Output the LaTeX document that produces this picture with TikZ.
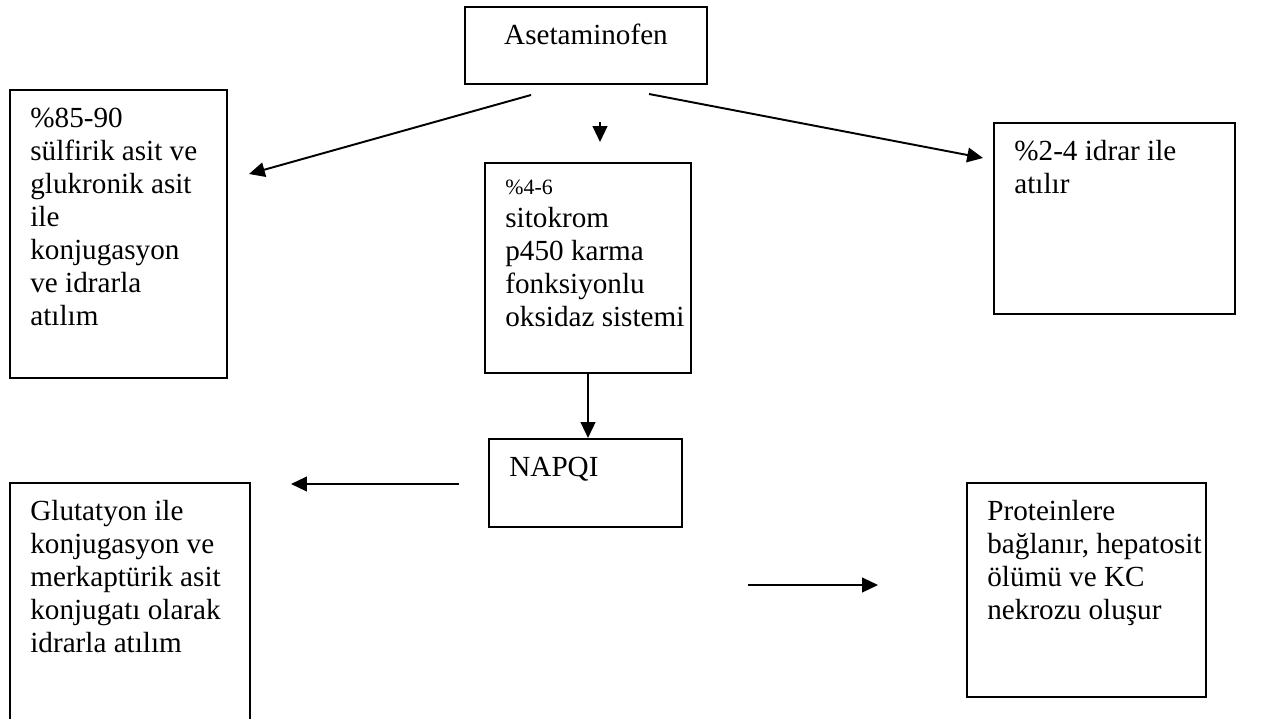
\documentclass[tikz,border=0pt]{standalone}
\usepackage{fontspec}
\setmainfont{Liberation Serif}
\usetikzlibrary{arrows.meta,positioning}

\begin{document}
\begin{tikzpicture}[x=0.4115pt, y=-0.4115pt,
  box/.style={draw, line width=0.8pt, anchor=north west, inner sep=0pt},
  txt/.style={anchor=north west, align=left, inner xsep=8.6pt, inner ysep=6pt, font=\fontsize{12}{13.6}\selectfont},
  arr/.style={-{Triangle[length=6.5pt, width=6pt]}, line width=0.8pt}]

\clip (0,0) rectangle (1277,719);

% Boxes
\node[box, minimum width=99.6pt, minimum height=31.7pt] (ace) at (464,6) {};
\node[box, minimum width=89.3pt, minimum height=118.5pt] (conj) at (9,89) {};
\node[box, minimum width=84.8pt, minimum height=86.4pt] (cyp) at (484,162) {};
\node[box, minimum width=99.2pt, minimum height=78.6pt] (urine) at (993,122) {};
\node[box, minimum width=79.4pt, minimum height=36.2pt] (napqi) at (488,438) {};
\node[box, minimum width=98.8pt, minimum height=114.4pt] (glut) at (9,482) {};
\node[box, minimum width=98.3pt, minimum height=88.1pt] (prot) at (966,482) {};

% Texts
\node[txt, anchor=north] (acet) at (ace.north) {\strut Asetaminofen};
\node[txt] (conjt) at (conj.north west) {\strut\%85-90\\sülfirik asit ve\\glukronik asit\\ile\\konjugasyon\\ve idrarla\\atılım};
\node[txt] (cypt) at (cyp.north west) {{\fontsize{9}{10}\selectfont\strut\%4-6}\\sitokrom\\p450 karma\\fonksiyonlu\\oksidaz sistemi};
\node[txt] (urinet) at (urine.north west) {\strut\%2-4 idrar ile\\atılır};
\node[txt] (napqit) at (napqi.north west) {\strut NAPQI};
\node[txt] (glutt) at (glut.north west) {\strut Glutatyon ile\\konjugasyon ve\\merkaptürik asit\\konjugatı olarak\\idrarla atılım};
\node[txt] (prott) at (prot.north west) {\strut Proteinlere\\bağlanır, hepatosit\\ölümü ve KC\\nekrozu oluşur};

% Arrow ends
\coordinate (ace1) at (531,95);
\coordinate (conjin) at (249,174);
\coordinate (ace2) at (600,122);
\coordinate (cypin) at (600,142);
\coordinate (ace3) at (649,94);
\coordinate (urinein) at (983,158);
\coordinate (napqi1) at (459,484);
\coordinate (glutin) at (291,484);
\coordinate (mid1) at (748,585);
\coordinate (protin) at (878,585);

% Connections
\foreach \from/\to in {ace1/conjin, ace2/cypin, ace3/urinein, napqi1/glutin, mid1/protin}
    \draw[arr] (\from) -- (\to);
\draw[arr] (cyp.south) -- (cyp.south |- napqi.north);

\end{tikzpicture}
\end{document}
